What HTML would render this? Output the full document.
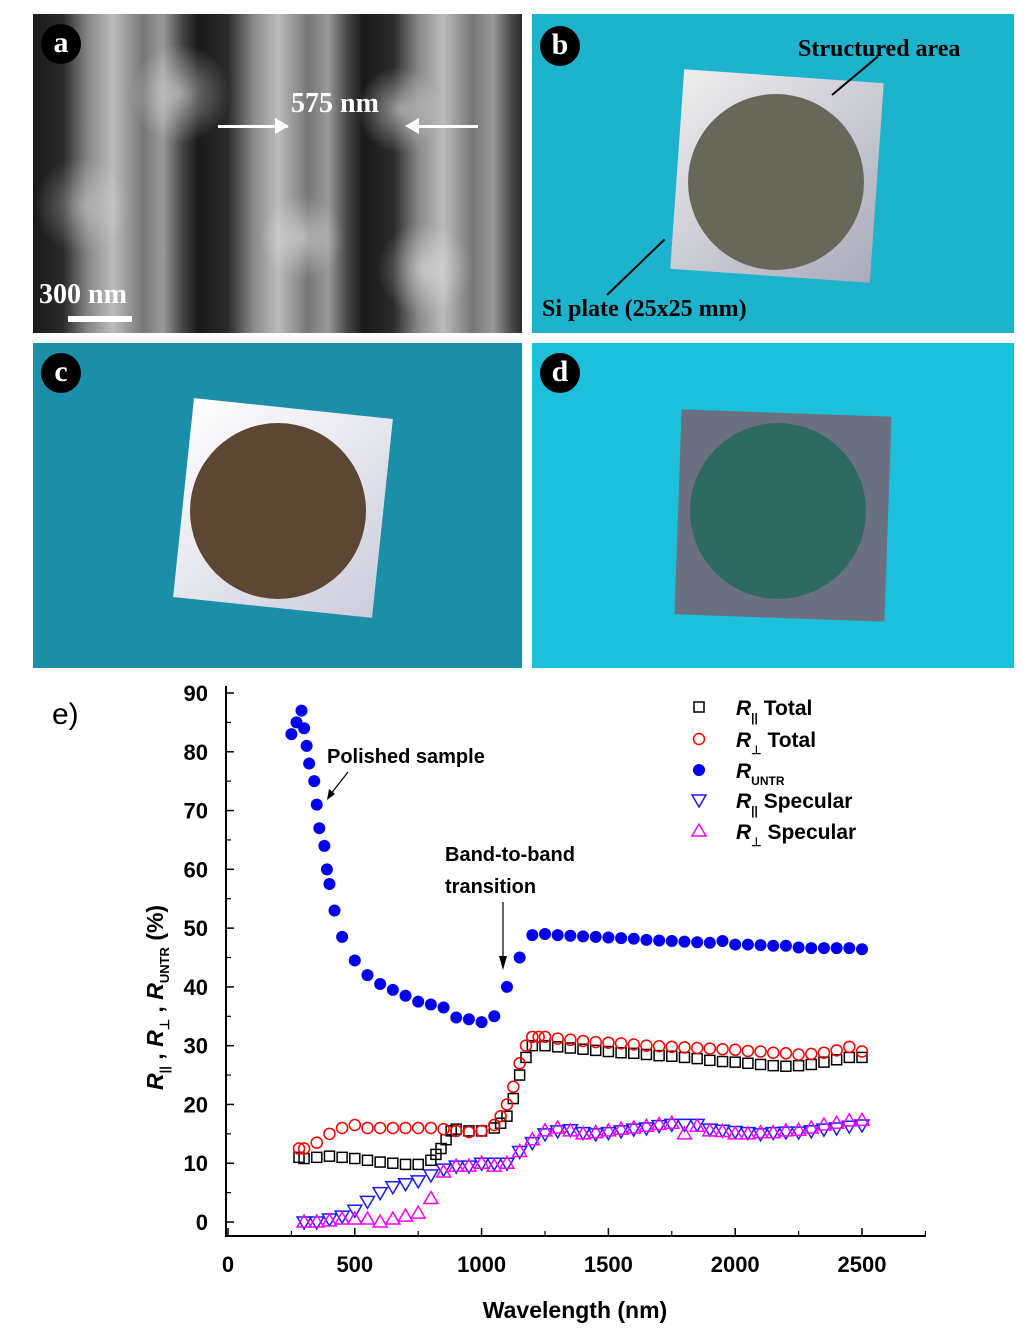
<!DOCTYPE html>
<html><head><meta charset="utf-8">
<style>
body{margin:0;width:1024px;height:1333px;background:#fff;position:relative;overflow:hidden;font-family:"Liberation Sans",sans-serif}
.panel{position:absolute;overflow:hidden}
.lbl{position:absolute;width:40px;height:40px;border-radius:50%;background:#000;color:#fff;font:bold 30px "Liberation Serif",serif;text-align:center;line-height:38px}
</style></head><body>
<div class="panel" style="left:33px;top:14px;width:489px;height:319px;background:repeating-linear-gradient(90deg,#1a1a1a 0px,#2a2a2a 30px,#888 55px,#bbb 80px,#777 110px,#999 130px,#444 150px,#1a1a1a 165px)">
 <div style="position:absolute;inset:0;background:radial-gradient(circle at 30% 25%,rgba(255,255,255,.5),transparent 12%),radial-gradient(circle at 75% 30%,rgba(255,255,255,.5),transparent 10%),radial-gradient(circle at 55% 70%,rgba(255,255,255,.45),transparent 12%),radial-gradient(circle at 80% 80%,rgba(255,255,255,.45),transparent 10%),radial-gradient(circle at 10% 60%,rgba(255,255,255,.35),transparent 10%)"></div>
 <div class="lbl" style="left:8px;top:10px">a</div>
 <div style="position:absolute;left:258px;top:74px;color:#fff;font:bold 28px 'Liberation Serif',serif">575 nm</div>
 <div style="position:absolute;left:185px;top:111px;width:70px;height:3px;background:#fff"></div>
 <div style="position:absolute;left:242px;top:104px;border-left:14px solid #fff;border-top:8px solid transparent;border-bottom:8px solid transparent"></div>
 <div style="position:absolute;left:385px;top:111px;width:60px;height:3px;background:#fff"></div>
 <div style="position:absolute;left:372px;top:104px;border-right:14px solid #fff;border-top:8px solid transparent;border-bottom:8px solid transparent"></div>
 <div style="position:absolute;left:6px;top:265px;color:#fff;font:bold 28px 'Liberation Serif',serif">300 nm</div>
 <div style="position:absolute;left:35px;top:302px;width:64px;height:6px;background:#fff"></div>
</div>
<div class="panel" style="left:532px;top:14px;width:482px;height:319px;background:#1eb3cc">
 <div style="position:absolute;left:145px;top:62px;width:200px;height:200px;background:linear-gradient(135deg,#eee,#aab);transform:rotate(4deg)"></div>
 <div style="position:absolute;left:156px;top:80px;width:176px;height:176px;border-radius:50%;background:#67675a"></div>
 <div class="lbl" style="left:8px;top:12px">b</div>
 <div style="position:absolute;left:266px;top:22px;font:bold 24px 'Liberation Serif',serif">Structured area</div>
 <div style="position:absolute;left:300px;top:80px;width:60px;height:2px;background:#000;transform:rotate(-40deg);transform-origin:left"></div>
 <div style="position:absolute;left:10px;top:282px;font:bold 24px 'Liberation Serif',serif">Si plate (25x25 mm)</div>
 <div style="position:absolute;left:75px;top:280px;width:80px;height:2px;background:#000;transform:rotate(-44deg);transform-origin:left"></div>
</div>
<div class="panel" style="left:33px;top:343px;width:489px;height:325px;background:#1b8ea8">
 <div style="position:absolute;left:150px;top:65px;width:200px;height:200px;background:linear-gradient(135deg,#fff,#ccd);transform:rotate(6deg)"></div>
 <div style="position:absolute;left:157px;top:80px;width:176px;height:176px;border-radius:50%;background:#5c4634"></div>
 <div class="lbl" style="left:8px;top:10px">c</div>
</div>
<div class="panel" style="left:532px;top:343px;width:482px;height:325px;background:#1cc0da">
 <div style="position:absolute;left:146px;top:70px;width:210px;height:205px;background:#6a7080;transform:rotate(2deg)"></div>
 <div style="position:absolute;left:158px;top:80px;width:176px;height:176px;border-radius:50%;background:#2f6a62"></div>
 <div class="lbl" style="left:8px;top:10px">d</div>
</div>
<svg id="chart" style="position:absolute;left:0;top:668px" width="1024" height="665" viewBox="0 668 1024 665" font-family="Liberation Sans, sans-serif"></svg>
<script>
const xTicks=[0,500,1000,1500,2000,2500];
const yTicks=[0,10,20,30,40,50,60,70,80,90];
const untrX=[250,270,290,300,310,320,340,350,360,380,390,400,420,450,500,550,600,650,700,750,800,850,900,950,1000,1050,1100,1150,1200,1250,1300,1350,1400,1450,1500,1550,1600,1650,1700,1750,1800,1850,1900,1950,2000,2050,2100,2150,2200,2250,2300,2350,2400,2450,2500];
const untrY=[83,85,87,84,81,78,75,71,67,64,60,57.5,53,48.5,44.5,42,40.5,39.5,38.5,37.5,37,36.5,34.8,34.5,34,35,40,45,48.8,49,48.8,48.7,48.6,48.5,48.4,48.3,48.2,48,47.9,47.8,47.7,47.6,47.5,47.8,47.2,47.2,47.1,47,47,46.7,46.6,46.6,46.6,46.6,46.4];
const totParX=[280,300,350,400,450,500,550,600,650,700,750,800,820,840,860,880,900,950,1000,1050,1075,1100,1125,1150,1175,1200,1250,1300,1350,1400,1450,1500,1550,1600,1650,1700,1750,1800,1850,1900,1950,2000,2050,2100,2150,2200,2250,2300,2350,2400,2450,2500];
const totParY=[11,10.8,11,11.2,11,10.8,10.5,10.2,10,9.8,9.8,10.5,11.5,12.5,14,15.5,15.8,15.5,15.5,16,16.8,18,21,25,28,30,30,29.8,29.6,29.4,29.2,29,28.8,28.7,28.5,28.3,28.2,28,27.8,27.5,27.3,27.2,27,26.8,26.6,26.5,26.6,26.8,27.2,27.6,28,28];
const totPerX=[280,300,350,400,450,500,550,600,650,700,750,800,850,900,950,1000,1050,1075,1100,1125,1150,1175,1200,1225,1250,1300,1350,1400,1450,1500,1550,1600,1650,1700,1750,1800,1850,1900,1950,2000,2050,2100,2150,2200,2250,2300,2350,2400,2450,2500];
const totPerY=[12.5,12.5,13.5,15,16,16.5,16,16,16,16,16,16,15.8,15.5,15.3,15.5,16.5,18,20,23,27,30,31.5,31.5,31.5,31.2,31,30.8,30.6,30.5,30.4,30.2,30,29.9,29.8,29.7,29.6,29.5,29.4,29.3,29.1,29,28.8,28.7,28.5,28.6,28.8,29.2,29.8,29];
const specX=[300,350,400,450,500,550,600,650,700,750,800,850,900,950,1000,1050,1100,1150,1200,1250,1300,1350,1400,1450,1500,1550,1600,1650,1700,1750,1800,1850,1900,1950,2000,2050,2100,2150,2200,2250,2300,2350,2400,2450,2500];
const specParY=[0,0,0.5,1,2,3.5,5,6,6.5,7,8,9,9.5,9.5,10,10,10,12,13.5,15,15.5,15.7,15.2,15,15.2,15.5,15.8,16,16.4,16.6,16.6,16.6,15.8,15.6,15.4,15.2,15,15.2,15.3,15.3,15.5,15.8,16,16.3,16.5];
const specPerY=[0,0,0.2,0.5,0.5,0.5,0,0.5,1,1.5,4,8.5,9.5,9.5,10,9.5,10,12,14,15.5,16,15.5,15,15.2,15.5,15.8,16,16.3,16.6,16.8,15,16.3,15.5,15.4,15,15,15.2,15.2,15.5,15.6,16,16.5,16.8,17.2,17.3];
const svg=document.getElementById('chart');
const NS='http://www.w3.org/2000/svg';
const X0=228,X1=862,Y0=1222,Y90=693;
function sx(v){return X0+(X1-X0)*v/2500;}
function sy(v){return Y0-(Y0-Y90)*v/90;}
function mk(t,a,txt){const e=document.createElementNS(NS,t);for(const k in a)e.setAttribute(k,a[k]);if(txt!==undefined)e.textContent=txt;svg.appendChild(e);return e;}
let e;
e=mk('line',{x1:226,y1:686,x2:226,y2:1237,stroke:'#000','stroke-width':2});


e=mk('line',{x1:226,y1:1236,x2:926,y2:1236,stroke:'#000','stroke-width':2});


yTicks.forEach(v=>{mk('line',{x1:226,y1:sy(v),x2:234,y2:sy(v),stroke:'#000','stroke-width':1.5});
 if(v<90)mk('line',{x1:226,y1:sy(v+5),x2:231,y2:sy(v+5),stroke:'#000','stroke-width':1.2});
 e=mk('text',{x:208,y:sy(v)+8,'text-anchor':'end','font-size':22,'font-weight':'bold'},v);
 
 });
xTicks.forEach(v=>{mk('line',{x1:sx(v),y1:1236,x2:sx(v),y2:1228,stroke:'#000','stroke-width':1.5});
 mk('line',{x1:sx(v+250),y1:1236,x2:sx(v+250),y2:1231,stroke:'#000','stroke-width':1.2});
 e=mk('text',{x:sx(v),y:1272,'text-anchor':'middle','font-size':22,'font-weight':'bold'},v);
 
 });
e=mk('text',{x:575,y:1318,'text-anchor':'middle','font-size':23,'font-weight':'bold'},'Wavelength (nm)');


e=mk('text',{x:0,y:0,'font-size':23,'font-weight':'bold',transform:'translate(163,1090) rotate(-90)'});
e.innerHTML='<tspan font-style="italic">R</tspan><tspan font-size="13" dy="6">||</tspan><tspan dy="-6"> , </tspan><tspan font-style="italic">R</tspan><tspan font-size="13" dy="6">⊥</tspan><tspan dy="-6"> , </tspan><tspan font-style="italic">R</tspan><tspan font-size="13" dy="6">UNTR</tspan><tspan dy="-6"> (%)</tspan>';


e=mk('text',{x:52,y:724,'font-size':30},'e)');


function sq(x,y,c){return mk('rect',{x:x-5,y:y-5,width:10,height:10,fill:'none',stroke:c,'stroke-width':1.5});}
function ci(x,y,c){return mk('circle',{cx:x,cy:y,r:5.5,fill:'none',stroke:c,'stroke-width':1.5});}
function dot(x,y,c){return mk('circle',{cx:x,cy:y,r:6,fill:c});}
function tdn(x,y,c){return mk('polygon',{points:`${x-7},${y-5} ${x+7},${y-5} ${x},${y+7}`,fill:'none',stroke:c,'stroke-width':1.5});}
function tup(x,y,c){return mk('polygon',{points:`${x-7},${y+5} ${x+7},${y+5} ${x},${y-7}`,fill:'none',stroke:c,'stroke-width':1.5});}
function series(xs,ys,f,c,name){xs.forEach((x,i)=>{const m=f(sx(x),sy(ys[i]),c);
 
 });}
series(specX,specParY,tdn,'#1a1aff','point-r-par-specular');
series(specX,specPerY,tup,'#ff00ff','point-r-perp-specular');
series(totParX,totParY,sq,'#000','point-r-par-total');
series(totPerX,totPerY,ci,'#ff0000','point-r-perp-total');
series(untrX,untrY,dot,'#0000ee','point-r-untr');
e=mk('text',{x:327,y:763,'font-size':20,'font-weight':'bold'},'Polished sample');


mk('line',{x1:348,y1:772,x2:330,y2:795,stroke:'#000','stroke-width':1.2});
mk('polygon',{points:'327,800 329,789 335,794',fill:'#000'});
e=mk('text',{x:445,y:861,'font-size':20,'font-weight':'bold'},'Band-to-band');


mk('text',{x:445,y:893,'font-size':20,'font-weight':'bold'},'transition');
mk('line',{x1:503,y1:902,x2:503,y2:960,stroke:'#000','stroke-width':1.2});
mk('polygon',{points:'503,970 499,956 507,956',fill:'#000'});
const leg=[['Total','||',sq,'#000'],['Total','⊥',ci,'#ff0000'],['','UNTR',dot,'#0000ee'],['Specular','||',tdn,'#1a1aff'],['Specular','⊥',tup,'#ff00ff']];
const legY=[707,739,770,800,831];
leg.forEach((l,i)=>{const y=legY[i];const m=l[2](699,y,l[3]);
 
 
 const t=mk('text',{x:736,y:y+8,'font-size':21,'font-weight':'bold'});
 t.innerHTML='<tspan font-style="italic">R</tspan><tspan font-size="12" dy="7">'+l[1]+'</tspan><tspan dy="-7"> '+l[0]+'</tspan>';
 
 });
</script>
</body></html>
